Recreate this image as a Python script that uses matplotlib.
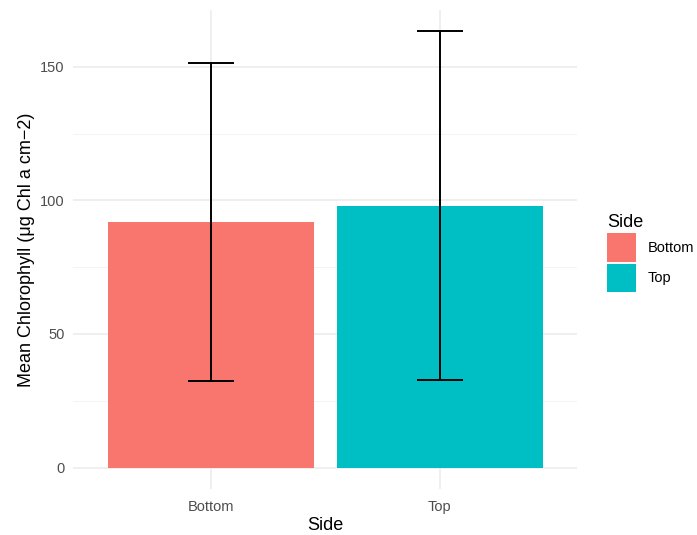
import matplotlib.pyplot as plt
from matplotlib.patches import Patch

plt.rcParams['font.family'] = ['Liberation Sans', 'DejaVu Sans']

sides = ['Bottom', 'Top']
mean_chl = [91.9, 98.0]
sd_chl = [59.6, 65.2]
colors = ['#F8766D', '#00BFC4']

fig = plt.figure(figsize=(6.97, 5.35), dpi=100)
ax = fig.add_axes([0.105, 0.0854, 0.723, 0.8966])

xpos = list(range(1, len(sides) + 1))
ax.bar(xpos, mean_chl, width=0.9, color=colors, zorder=2)
for x, m, s in zip(xpos, mean_chl, sd_chl):
    ax.errorbar(x, m, yerr=s, color='black', lw=1.4, capsize=0, zorder=3)
    # flat caps 0.2 units wide like geom_errorbar(width = 0.2)
    ax.hlines([m - s, m + s], x - 0.1, x + 0.1, color='black', lw=1.4, zorder=3)

top = max(m + s for m, s in zip(mean_chl, sd_chl))
pad = top * 0.05
ax.set_xlim(0.4, 2.6)
ax.set_ylim(-pad, top + pad)

ax.set_yticks([0, 50, 100, 150])
ax.set_yticks([25, 75, 125], minor=True)
ax.set_xticks(xpos)
ax.set_xticklabels(sides)
ax.grid(which='major', color='#EBEBEB', lw=1.1, zorder=0)
ax.grid(which='minor', axis='y', color='#F4F4F4', lw=0.7, zorder=0)
ax.tick_params(which='both', length=0, labelsize=10.5, labelcolor='#4D4D4D')
ax.tick_params(axis='x', pad=8)
ax.tick_params(axis='y', pad=6)
for sp in ax.spines.values():
    sp.set_visible(False)

ax.set_xlabel('Side', fontsize=13, labelpad=2)
ax.set_ylabel('Mean Chlorophyll (μg Chl a cm−2)', fontsize=13, labelpad=4)

handles = [Patch(facecolor=c, edgecolor='none') for c in colors]
fig.legend(handles, sides, title='Side', loc='upper left',
           bbox_to_anchor=(0.852, 0.624), frameon=False, fontsize=10.5,
           title_fontsize=13, handlelength=2.0, handleheight=2.6,
           labelspacing=0.15, handletextpad=0.8, alignment='left')

fig.savefig('out.png', dpi=100)
